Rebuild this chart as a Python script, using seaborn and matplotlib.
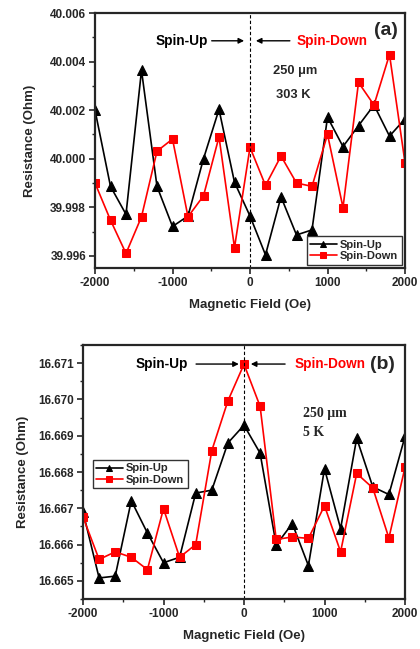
import numpy as np
import pandas as pd
import seaborn as sns
import matplotlib.pyplot as plt
from matplotlib.ticker import MultipleLocator

# Magnetic field sweep (Oe)
field = list(range(-2000, 2001, 200))

# (a) 250 um, 303 K
up_a = [40.00200, 39.99886, 39.99771, 40.00364, 39.99886, 39.99721, 39.99764,
        40.00000, 40.00203, 39.99903, 39.99764, 39.99604, 39.99843, 39.99686,
        39.99707, 40.00171, 40.00050, 40.00136, 40.00221, 40.00093, 40.00164]
down_a = [39.99900, 39.99747, 39.99610, 39.99761, 40.00031, 40.00081, 39.99761,
          39.99847, 40.00090, 39.99634, 40.00047, 39.99890, 40.00011, 39.99900,
          39.99886, 40.00100, 39.99799, 40.00314, 40.00221, 40.00429, 39.99984]

# (b) 250 um, 5 K
up_b = [16.66690, 16.66508, 16.66513, 16.66721, 16.66632, 16.66550, 16.66565,
        16.66742, 16.66750, 16.66880, 16.66929, 16.66852, 16.66599, 16.66658,
        16.66542, 16.66809, 16.66644, 16.66893, 16.66759, 16.66738, 16.66898]
down_b = [16.66676, 16.66559, 16.66580, 16.66565, 16.66531, 16.66699, 16.66565,
          16.66600, 16.66859, 16.66996, 16.67097, 16.66981, 16.66614, 16.66621,
          16.66617, 16.66707, 16.66580, 16.66796, 16.66756, 16.66618, 16.66813]

sns.set_style("ticks")
plt.rcParams['font.family'] = ['Liberation Sans', 'DejaVu Sans']
plt.rcParams['font.weight'] = 'bold'
plt.rcParams['axes.labelweight'] = 'bold'
plt.rcParams['axes.unicode_minus'] = False

fig = plt.figure(figsize=(4.2, 6.49), dpi=100)
W, H = 420, 649
ax_a = fig.add_axes([95 / W, 1 - 268 / H, 310 / W, 255 / H])
ax_b = fig.add_axes([83 / W, 1 - 599 / H, 322 / W, 254 / H])


def draw(ax, up, down, ylim, ymaj, ymin, ypad):
    df = pd.DataFrame({"field": field, "up": up, "down": down})
    sns.lineplot(data=df, x="field", y="up", ax=ax, color="black", marker="^",
                 markersize=6.5, markeredgecolor="black", linewidth=1.2, label="Spin-Up")
    sns.lineplot(data=df, x="field", y="down", ax=ax, color="#ff0000", marker="s",
                 markersize=5.5, markeredgecolor="#ff0000", linewidth=1.2, label="Spin-Down")
    ax.axvline(0, color="black", linestyle="--", linewidth=0.8, dashes=(3, 2))
    ax.set_xlim(-2000, 2000)
    ax.set_ylim(*ylim)
    ax.xaxis.set_major_locator(MultipleLocator(1000))
    ax.xaxis.set_minor_locator(MultipleLocator(500))
    ax.yaxis.set_major_locator(MultipleLocator(ymaj))
    ax.yaxis.set_minor_locator(MultipleLocator(ymin))
    ax.yaxis.set_major_formatter(plt.FormatStrFormatter("%.3f"))
    ax.tick_params(which="major", direction="out", length=4, width=1.2, labelsize=8.5, pad=2.5)
    ax.tick_params(which="minor", direction="out", length=2.5, width=1)
    for s in ax.spines.values():
        s.set_linewidth(1.6)
    ax.set_xlabel("Magnetic Field (Oe)", fontsize=9.5, labelpad=7)
    ax.set_ylabel("Resistance (Ohm)", fontsize=9.5, labelpad=ypad)
    for lab in ax.get_xticklabels() + ax.get_yticklabels():
        lab.set_fontweight("bold")


draw(ax_a, up_a, down_a, (39.9955, 40.006), 0.002, 0.001, 10)
draw(ax_b, up_b, down_b, (16.6645, 16.6715), 0.001, 0.0005, 7)

leg_kw = dict(fontsize=8, frameon=True, fancybox=False, edgecolor="black",
              handlelength=2.4, handletextpad=0.3, borderpad=0.3, labelspacing=0.15,
              borderaxespad=0.3, markerscale=0.7)
leg = ax_a.legend(loc="lower right", **leg_kw)
leg.get_frame().set_linewidth(1.0)
leg = ax_b.legend(loc="upper left", bbox_to_anchor=(0.02, 0.56), **leg_kw)
leg.get_frame().set_linewidth(1.0)

arrow = dict(arrowstyle="-|>", color="black", lw=1.0, mutation_scale=8)
sans_kw = dict(fontweight="bold")
serif = ["Liberation Serif", "DejaVu Serif"]

# panel (a) annotations
ya = 0.891
ax_a.annotate("", xy=(-40, ya), xytext=(-530, ya),
              xycoords=ax_a.get_xaxis_transform(), arrowprops=arrow)
ax_a.annotate("", xy=(40, ya), xytext=(550, ya),
              xycoords=ax_a.get_xaxis_transform(), arrowprops=arrow)
ax_a.text(-545, ya, "Spin-Up", transform=ax_a.get_xaxis_transform(),
          ha="right", va="center", fontsize=9.8, color="black", **sans_kw)
ax_a.text(600, ya, "Spin-Down", transform=ax_a.get_xaxis_transform(),
          ha="left", va="center", fontsize=9.8, color="#ff0000", **sans_kw)
ax_a.text(0.94, 0.93, "(a)", transform=ax_a.transAxes, ha="center", va="center",
          fontsize=14, **sans_kw)
ax_a.text(0.645, 0.773, "250 \u03bcm", transform=ax_a.transAxes, ha="center",
          va="center", fontsize=9.3, **sans_kw)
ax_a.text(0.64, 0.679, "303 K", transform=ax_a.transAxes, ha="center",
          va="center", fontsize=9.3, **sans_kw)

# panel (b) annotations
yb = 0.925
ax_b.annotate("", xy=(-30, yb), xytext=(-630, yb),
              xycoords=ax_b.get_xaxis_transform(), arrowprops=arrow)
ax_b.annotate("", xy=(50, yb), xytext=(545, yb),
              xycoords=ax_b.get_xaxis_transform(), arrowprops=arrow)
ax_b.text(-700, yb, "Spin-Up", transform=ax_b.get_xaxis_transform(),
          ha="right", va="center", fontsize=9.8, color="black", **sans_kw)
ax_b.text(630, yb, "Spin-Down", transform=ax_b.get_xaxis_transform(),
          ha="left", va="center", fontsize=9.8, color="#ff0000", **sans_kw)
ax_b.text(0.93, 0.925, "(b)", transform=ax_b.transAxes, ha="center", va="center",
          fontsize=14, **sans_kw)
ax_b.text(0.683, 0.731, "250 \u03bcm", transform=ax_b.transAxes, ha="left",
          va="center", fontsize=10, fontweight="bold", family=serif)
ax_b.text(0.683, 0.657, "5 K", transform=ax_b.transAxes, ha="left",
          va="center", fontsize=10, fontweight="bold", family=serif)

fig.savefig("out.png", dpi=100)
